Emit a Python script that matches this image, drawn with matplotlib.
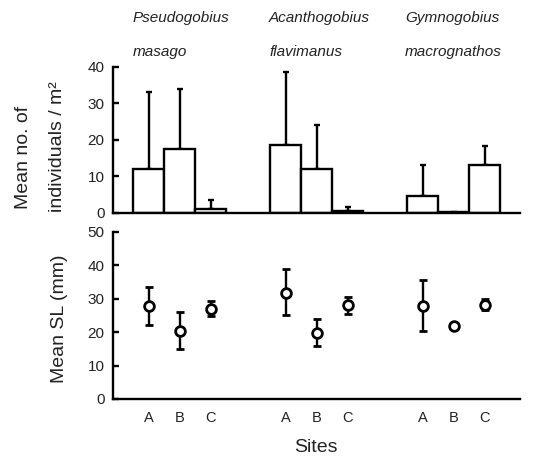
import numpy as np
import matplotlib
matplotlib.use("Agg")
import matplotlib.pyplot as plt

plt.rcParams['font.family'] = ['Liberation Sans', 'DejaVu Sans']

# species (genus / epithet), sites
genus = ["Pseudogobius", "Acanthogobius", "Gymnogobius"]
epithet = ["masago", "flavimanus", "macrognathos"]
sites = ["A", "B", "C"]

# density: mean no. of individuals / m2 and upper end of error bar
dens_mean = [12, 17.5, 1.0, 18.5, 12, 0.5, 4.5, 0.2, 13]
dens_upper = [33, 34, 3.5, 38.5, 24, 1.5, 13, np.nan, 18.3]

# mean standard length (mm) with lower / upper end of error bar
sl_mean = [27.7, 20.3, 27.0, 31.8, 19.8, 28.0, 27.8, 21.7, 28.2]
sl_lower = [22.0, 14.8, 24.8, 25.0, 15.8, 25.5, 20.3, np.nan, 26.5]
sl_upper = [33.5, 26.0, 29.3, 39.0, 24.0, 30.5, 35.5, np.nan, 30.0]

group_gap = 4.42
x = np.array([g * group_gap + s for g in range(3) for s in range(3)])
dens_mean = np.array(dens_mean)
dens_upper = np.array(dens_upper)
sl_mean = np.array(sl_mean)
sl_lower = np.array(sl_lower)
sl_upper = np.array(sl_upper)

txt = "#222222"
W, H = 543, 457
fig = plt.figure(figsize=(W / 100, H / 100), dpi=100)
left = 113 / W
width = (520 - 113) / W
ax1 = fig.add_axes([left, 1 - 212.7 / H, width, (212.7 - 67) / H])
ax2 = fig.add_axes([left, 1 - 399 / H, width, (399 - 231.7) / H])

xlim = (-1.145, 11.98)

# top panel: bars with upward error bars
ax1.bar(x, dens_mean, width=1.0, color="white", edgecolor="black", linewidth=1.7, zorder=2)
ax1.errorbar(x, dens_mean, yerr=[np.zeros_like(dens_mean), dens_upper - dens_mean],
             fmt="none", ecolor="black", elinewidth=1.7, capsize=2.5, capthick=1.7, zorder=1)
ax1.set_ylim(0, 40)
ax1.set_yticks([0, 10, 20, 30, 40])

# bottom panel: open circles with error bars
ax2.errorbar(x, sl_mean, yerr=[sl_mean - sl_lower, sl_upper - sl_mean],
             fmt="o", color="black", mfc="white", mec="black", ms=7, mew=2.0,
             elinewidth=1.7, capsize=3.2, capthick=1.7)
ax2.set_ylim(0, 50)
ax2.set_yticks([0, 10, 20, 30, 40, 50])

for ax in (ax1, ax2):
    ax.set_xlim(*xlim)
    ax.spines["top"].set_visible(False)
    ax.spines["right"].set_visible(False)
    ax.spines["left"].set_linewidth(1.7)
    ax.spines["bottom"].set_linewidth(1.7)
    ax.tick_params(axis="y", direction="in", length=4, width=1.7, labelsize=11,
                   pad=6, labelcolor=txt)
    ax.tick_params(axis="x", length=0, labelcolor=txt)

ax1.set_xticks([])
ax2.set_xticks(x)
ax2.set_xticklabels(sites * 3, fontsize=10.5)
ax2.tick_params(axis="x", pad=9)

# species labels above the top panel
for g in range(3):
    lx = (133 + g * 136) / W
    fig.text(lx, 1 - 18 / H, genus[g], style="italic", fontsize=11, ha="left", va="center", color=txt)
    fig.text(lx, 1 - 52 / H, epithet[g], style="italic", fontsize=11, ha="left", va="center", color=txt)

fig.text(24 / W, 1 - 157 / H, "Mean no. of", rotation=90, ha="center", va="center",
         fontsize=14, color=txt)
fig.text(57 / W, 1 - 147 / H, "individuals / m²", rotation=90, ha="center", va="center",
         fontsize=14, color=txt)
fig.text(60 / W, 1 - 319 / H, "Mean SL (mm)", rotation=90, ha="center", va="center",
         fontsize=14, color=txt)
fig.text(316 / W, 1 - 448 / H, "Sites", ha="center", va="center", fontsize=14, color=txt)

fig.savefig("out.png", dpi=100)
